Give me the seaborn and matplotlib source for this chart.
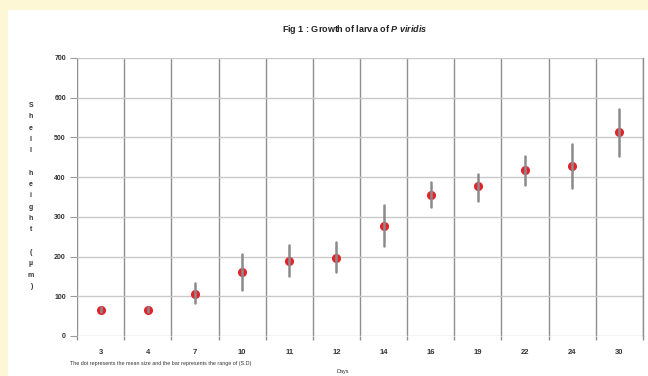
import matplotlib
matplotlib.use("Agg")
import matplotlib.pyplot as plt
import seaborn as sns
import pandas as pd
import numpy as np
from matplotlib.ticker import MultipleLocator, FixedLocator

# Larval shell height (µm) by day: mean with low/high range
days = ["3", "4", "7", "10", "11", "12", "14", "16", "19", "22", "24", "30"]
mean_size = [66, 66, 106, 160, 190, 196, 278, 354, 378, 418, 428, 514]
range_low = [60, 60, 82, 117, 152, 161, 226, 325, 339, 380, 372, 452]
range_high = [72, 72, 134, 207, 228, 237, 331, 388, 408, 454, 483, 572]

rows = []
for d, lo, m, hi in zip(days, range_low, mean_size, range_high):
    for v in (lo, m, hi):
        rows.append({"Days": d, "size": v})
df = pd.DataFrame(rows)

sns.set_theme(style="white")
plt.rcParams["font.family"] = ["Liberation Sans", "DejaVu Sans"]
plt.rcParams["mathtext.fontset"] = "custom"
plt.rcParams["mathtext.it"] = "Liberation Sans:italic:bold"
plt.rcParams["mathtext.rm"] = "Liberation Sans:bold"

fig = plt.figure(figsize=(6.48, 3.76), dpi=100)
fig.patch.set_facecolor("#fdf7d6")
# white page panel
fig.add_artist(plt.Rectangle((8 / 648, 0), 1, 1 - 10 / 376,
                             transform=fig.transFigure, facecolor="white",
                             edgecolor="none", zorder=0))

ax = fig.add_axes([77 / 648, 1 - 336 / 376, (643 - 77) / 648, (336 - 58) / 376])
ax.set_facecolor("white")

sns.pointplot(data=df, x="Days", y="size", order=days,
              estimator=np.median,
              errorbar=lambda v: (v.min(), v.max()),
              linestyle="none", marker="o", markersize=4.5,
              color="#e3232c", err_kws={"color": "#8a8a8a", "linewidth": 1.8},
              capsize=0, ax=ax, zorder=3)

ax.set_xlim(-0.5, len(days) - 0.5)
ax.set_ylim(0, 700)
ax.yaxis.set_major_locator(MultipleLocator(100))
ax.xaxis.set_minor_locator(FixedLocator(np.arange(-0.5, len(days), 1.0)))

ax.grid(True, axis="y", which="major", color="#c9c9c9", linewidth=1.0)
ax.grid(True, axis="x", which="minor", color="#8f8f8f", linewidth=1.0)
ax.grid(False, axis="x", which="major")
ax.set_axisbelow(True)

for s in ["top", "left", "bottom"]:
    ax.spines[s].set_visible(False)
ax.spines["right"].set_color("#8f8f8f")
ax.spines["right"].set_linewidth(1.0)

ax.tick_params(axis="y", which="major", left=True, length=5, width=0.8,
               color="#9a9a9a", labelsize=5, labelcolor="#333333", pad=3)
ax.tick_params(axis="x", which="major", bottom=False, length=0,
               labelsize=5.5, labelcolor="#333333", pad=9)
ax.tick_params(axis="x", which="minor", bottom=True, length=3, color="#8f8f8f")
for lab in ax.get_yticklabels() + ax.get_xticklabels():
    lab.set_fontweight("bold")

ax.set_xlabel("")
ax.set_ylabel("")

fig.text(355 / 648, 1 - 30 / 376,
         r"Fig 1 : Growth of larva of $\it{P\ viridis}$",
         ha="center", va="center", fontsize=6.5, fontweight="bold",
         color="#222222")

ylabel = "Shell height (\u00b5m)"
fig.text(31 / 648, 1 - 196 / 376, "\n".join(ylabel), ha="center",
         va="center", fontsize=5, fontweight="bold", color="#333333",
         linespacing=1.86)

fig.text(70 / 648, 1 - 364 / 376,
         "The dot represents the mean size and the bar represents the range of (S.D)",
         ha="left", va="center", fontsize=3.9, color="#333333")
fig.text(343 / 648, 1 - 372 / 376, "Days", ha="center", va="center",
         fontsize=4, color="#333333")

fig.savefig("out.png", dpi=100, facecolor=fig.get_facecolor())
